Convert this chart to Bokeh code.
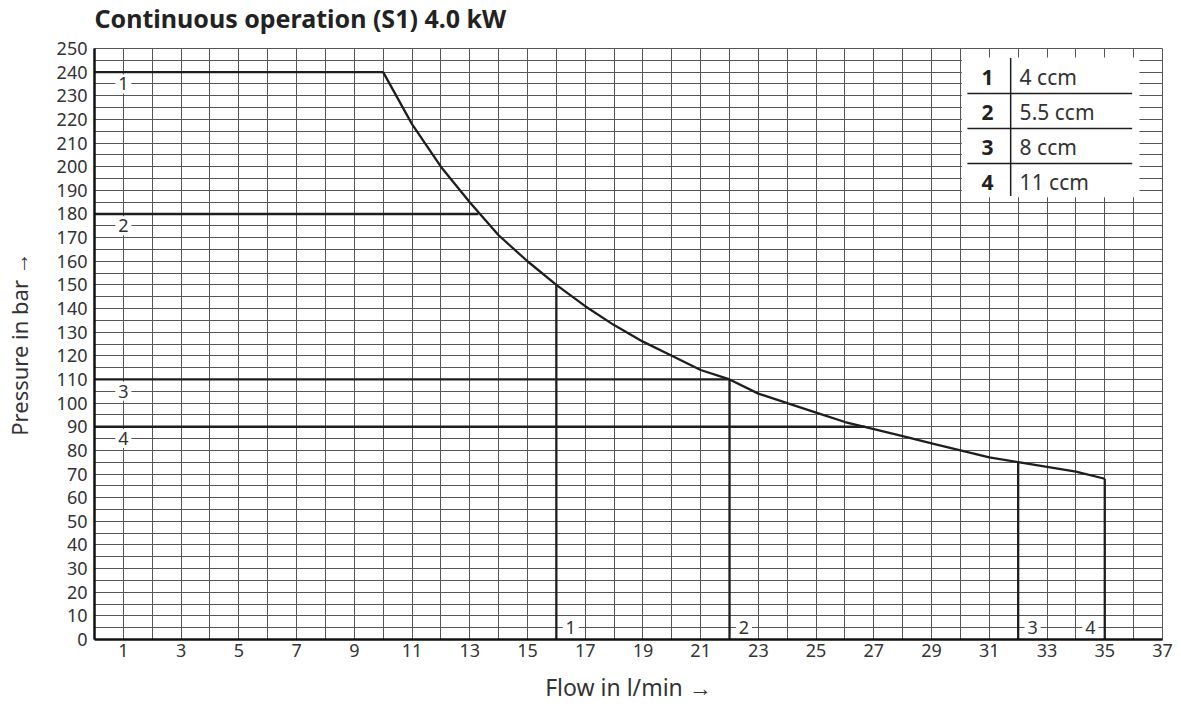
from bokeh.plotting import figure
from bokeh.layouts import column
from bokeh.models import Range1d, FixedTicker
from bokeh.core.properties import value
from bokeh.embed import file_html
from bokeh.resources import INLINE

# ---- data ----
flow_curve = [10, 11, 12, 13, 14, 15, 16, 17, 18, 19, 20, 21, 22, 23, 24,
              25, 26, 27, 28, 29, 30, 31, 32, 33, 34, 35]
pressure_curve = [240, 218, 200, 185, 171, 160, 150, 141, 133, 126, 120, 114,
                  110, 104, 100, 96, 92, 89, 86, 83, 80, 77, 75, 73, 71, 68]
size_ids = ["1", "2", "3", "4"]
displacements = ["4 ccm", "5.5 ccm", "8 ccm", "11 ccm"]
max_pressure = [240, 180, 110, 90]
max_pressure_flow_end = [10, 13.3, 22, 26.7]
max_flow = [16, 22, 32, 35]
max_flow_pressure = [150, 110, 75, 68]
x_ticks = list(range(1, 38, 2))
y_ticks = list(range(0, 251, 10))
title_text = "Continuous operation (S1) 4.0 kW"
x_label_text = "Flow in l/min \u2192"
y_label_text = "Pressure in bar \u2192"

FONT = "Noto Sans"
TXT = "#333333"
INK = "#1e1e1e"
GRID = "#555555"
W = 1181
TITLE_H = 34
ML, MR = 93, 19

# ---- title strip (same horizontal frame as the chart) ----
pt = figure(width=W, height=TITLE_H, x_range=Range1d(0, 37), y_range=Range1d(0, 1),
            output_backend="svg", toolbar_location=None,
            min_border_left=ML, min_border_right=MR, min_border_top=0, min_border_bottom=0,
            x_axis_location=None, y_axis_location=None)
pt.grid.visible = False
pt.outline_line_color = None
pt.background_fill_color = "white"
pt.border_fill_color = "white"
pt.text(x=[0], y=[0.5], text=[title_text], text_font=value(FONT),
        text_font_size="25px", text_font_style="bold", text_color="#222222",
        text_align="left", text_baseline="middle")

# ---- main chart ----
p = figure(width=W, height=706 - TITLE_H, x_range=Range1d(0, 37), y_range=Range1d(0, 250),
           output_backend="svg", toolbar_location=None,
           min_border_left=ML, min_border_right=MR, min_border_top=14, min_border_bottom=67)

p.outline_line_color = GRID
p.outline_line_width = 1
p.background_fill_color = "white"
p.border_fill_color = "white"

# grid
p.xgrid.ticker = FixedTicker(ticks=list(range(0, 38)))
p.ygrid.ticker = FixedTicker(ticks=list(range(0, 251, 5)))
for g in (p.xgrid, p.ygrid):
    g.grid_line_color = GRID
    g.grid_line_width = 1
    g.grid_line_alpha = 1.0

# axes
p.xaxis.ticker = FixedTicker(ticks=x_ticks)
p.yaxis.ticker = FixedTicker(ticks=y_ticks)
p.xaxis.axis_label = x_label_text
p.yaxis.axis_label = y_label_text
for ax in (p.xaxis, p.yaxis):
    ax.axis_line_color = "#111111"
    ax.axis_line_width = 2.5
    ax.major_tick_out = 0
    ax.major_tick_in = 0
    ax.minor_tick_out = 0
    ax.minor_tick_in = 0
    ax.major_label_text_font = FONT
    ax.major_label_text_font_size = "18px"
    ax.major_label_text_color = TXT
    ax.axis_label_text_font = FONT
    ax.axis_label_text_font_size = "22px"
    ax.axis_label_text_font_style = "normal"
    ax.axis_label_text_color = TXT
p.xaxis.axis_label_text_font_size = "23px"
p.xaxis.major_label_standoff = 4
p.yaxis.major_label_standoff = 7
p.xaxis.axis_label_standoff = 11
p.yaxis.axis_label_standoff = 20

# max pressure lines (horizontal) and max flow lines (vertical)
p.segment(x0=[0] * 4, y0=max_pressure, x1=max_pressure_flow_end, y1=max_pressure,
          line_color=INK, line_width=2.3)
p.segment(x0=max_flow, y0=[0] * 4, x1=max_flow, y1=max_flow_pressure,
          line_color=INK, line_width=2.3)
# power limit curve
p.line(flow_curve, pressure_curve, line_color=INK, line_width=2.3, line_join="round")

# labels on the lines
lx = [1] * 4
ly = [mp - 5 for mp in max_pressure]
bx = [16.5, 22.5, 32.5, 34.5]
by = [5] * 4
p.rect(lx + bx, ly + by, width=16, height=19, width_units="screen", height_units="screen",
       fill_color="white", line_color=None)
p.text(lx + bx, ly + by, text=size_ids + size_ids, text_font=value(FONT),
       text_font_size="18px", text_align="center", text_baseline="middle", text_color=TXT)

# legend table
p.quad(left=30.05, right=36.2, top=246.2, bottom=187.1, fill_color="white", line_color=None)
p.segment(x0=[30.24] * 3, y0=[231.0, 216.2, 201.4], x1=[35.95] * 3, y1=[231.0, 216.2, 201.4],
          line_color=INK, line_width=1.5)
p.segment(x0=[31.74], y0=[246.0], x1=[31.74], y1=[187.6], line_color=INK, line_width=1.5)
row_y = [237.8, 223.0, 208.2, 193.4]
p.text([30.94] * 4, row_y, text=size_ids, text_font=value(FONT), text_font_style="bold",
       text_font_size="21px", text_align="center", text_baseline="middle", text_color="#222222")
p.text([32.05] * 4, row_y, text=displacements, text_font=value(FONT),
       text_font_size="21px", text_align="left", text_baseline="middle", text_color=TXT)

layout = column(pt, p, spacing=0)
open("out.html", "w").write(file_html(layout, INLINE))
